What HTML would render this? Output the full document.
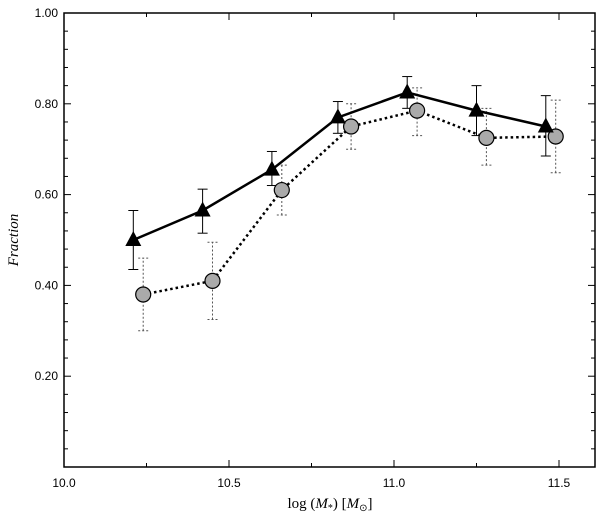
<!DOCTYPE html>
<html><head><meta charset="utf-8"><style>
body{margin:0;background:#fff}
svg text{font-family:"Liberation Sans",sans-serif;font-size:12px}
</style></head><body>
<svg id="c" width="600" height="517">
<g id="axes"></g><g id="marks"></g>
</svg>
<script>
const triX=[10.21,10.42,10.63,10.83,11.04,11.25,11.46];
const triY=[0.50,0.565,0.655,0.77,0.825,0.785,0.75];
const triLo=[0.435,0.515,0.62,0.735,0.79,0.73,0.685];
const triHi=[0.565,0.612,0.695,0.805,0.86,0.84,0.818];
const cirX=[10.24,10.45,10.66,10.87,11.07,11.28,11.49];
const cirY=[0.38,0.41,0.61,0.75,0.785,0.725,0.728];
const cirLo=[0.30,0.325,0.555,0.70,0.73,0.665,0.648];
const cirHi=[0.46,0.495,0.665,0.80,0.835,0.79,0.808];
const xTicks=[10.0,10.5,11.0,11.5];
const yTicks=[0.20,0.40,0.60,0.80,1.00];
const X0=64,X1=595,Y0=467,Y1=13;
const sx=v=>X0+(v-10)*330;
const sy=v=>Y0-v*454;
const NS='http://www.w3.org/2000/svg';
function mk(p,t,a){const e=document.createElementNS(NS,t);for(const k in a)e.setAttribute(k,a[k]);p.appendChild(e);return e;}
const ax=document.getElementById('axes'),mg=document.getElementById('marks');
let f=mk(ax,'rect',{x:X0,y:Y1,width:X1-X0,height:Y0-Y1,fill:'none',stroke:'#000','stroke-width':1.5});

for(let v=10;v<=11.6;v+=0.25){const x=sx(v),L=(Math.abs(v*2-Math.round(v*2))<1e-6)?7:4;
mk(ax,'line',{x1:x,x2:x,y1:Y0,y2:Y0-L,stroke:'#000'});mk(ax,'line',{x1:x,x2:x,y1:Y1,y2:Y1+L,stroke:'#000'});}
for(let i=1;i<=25;i++){const v=i*0.04,y=sy(v),L=(i%5==0)?7:4;
mk(ax,'line',{x1:X0,x2:X0+L,y1:y,y2:y,stroke:'#000'});mk(ax,'line',{x1:X1,x2:X1-L,y1:y,y2:y,stroke:'#000'});}
xTicks.forEach(v=>{const t=mk(ax,'text',{x:sx(v),y:Y0+20,'text-anchor':'middle'});t.textContent=v.toFixed(1);
});
yTicks.forEach(v=>{const t=mk(ax,'text',{x:X0-6,y:sy(v)+4,'text-anchor':'end'});t.textContent=v.toFixed(2);
});
let yt=mk(ax,'text',{x:18,y:240,transform:'rotate(-90 18 240)','text-anchor':'middle',style:'font-family:Liberation Serif,serif;font-style:italic;font-size:15px'});
yt.textContent='Fraction';
let xt=mk(ax,'text',{x:330,y:508,'text-anchor':'middle',style:'font-family:Liberation Serif,serif;font-size:15px'});
xt.innerHTML='log (<tspan font-style="italic">M</tspan><tspan font-size="10" dy="3">*</tspan><tspan dy="-3">) [</tspan><tspan font-style="italic">M</tspan><tspan font-size="10" dy="3">⊙</tspan><tspan dy="-3">]</tspan>';

function errbar(x,lo,hi,dash,name){const g=mk(mg,'g',{stroke:dash?'#555':'#000','stroke-width':1,'stroke-dasharray':dash?'2,2':'none'});

mk(g,'line',{x1:sx(x),x2:sx(x),y1:sy(lo),y2:sy(hi)});
mk(g,'line',{x1:sx(x)-5,x2:sx(x)+5,y1:sy(lo),y2:sy(lo)});mk(g,'line',{x1:sx(x)-5,x2:sx(x)+5,y1:sy(hi),y2:sy(hi)});}
triX.forEach((x,i)=>errbar(x,triLo[i],triHi[i],false,'triangle-error-bar'));
cirX.forEach((x,i)=>errbar(x,cirLo[i],cirHi[i],true,'circle-error-bar'));
let l2=mk(mg,'polyline',{points:cirX.map((x,i)=>sx(x)+','+sy(cirY[i])).join(' '),fill:'none',stroke:'#000','stroke-width':2.5,'stroke-dasharray':'2.5,3'});

let l1=mk(mg,'polyline',{points:triX.map((x,i)=>sx(x)+','+sy(triY[i])).join(' '),fill:'none',stroke:'#000','stroke-width':2.5});

cirX.forEach((x,i)=>{const c=mk(mg,'circle',{cx:sx(x),cy:sy(cirY[i]),r:7.5,fill:'#aaa',stroke:'#000','stroke-width':1.2});
});
triX.forEach((x,i)=>{const px=sx(x),py=sy(triY[i]);const p=mk(mg,'polygon',{points:`${px},${py-9} ${px-8},${py+6} ${px+8},${py+6}`,fill:'#000'});
});
</script>
</body></html>
